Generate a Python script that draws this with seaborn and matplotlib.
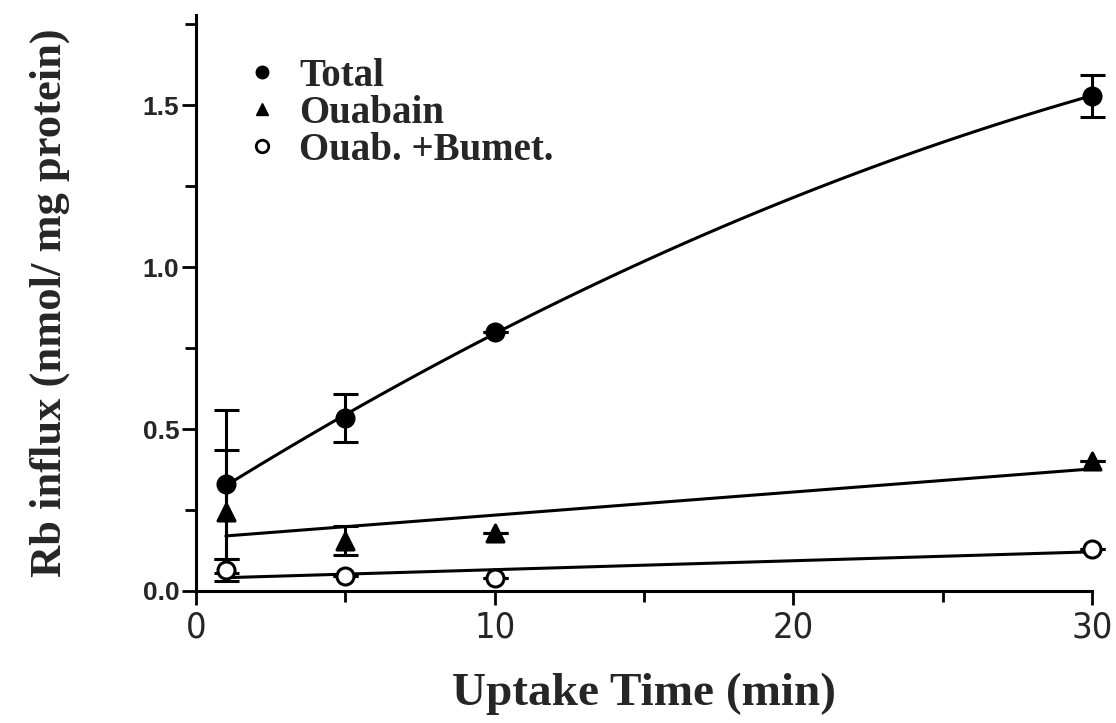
import numpy as np
import pandas as pd
import matplotlib
matplotlib.use("Agg")
import matplotlib.pyplot as plt
import seaborn as sns
from matplotlib.ticker import MultipleLocator, FixedLocator
from matplotlib.lines import Line2D

# ---- data ----
time = [1, 5, 10, 30]
total = [0.33, 0.535, 0.80, 1.53]
total_err = [0.23, 0.075, 0.0, 0.065]
ouabain = [0.245, 0.155, 0.18, 0.40]
ouabain_err = [0.19, 0.045, 0.0, 0.0]
bumet = [0.065, 0.045, 0.04, 0.13]
bumet_err = [0.035, 0.0, 0.0, 0.0]
series_names = ["Total", "Ouabain", "Ouab. +Bumet."]
x_ticks = [0, 10, 20, 30]
y_ticks = [0.0, 0.5, 1.0, 1.5]
y_tick_labels = ["0.0", "0.5", "1.0", "1.5"]

sns.set_theme(style="ticks")
plt.rcParams['font.family'] = ['Liberation Serif', 'DejaVu Serif']

fig = plt.figure(figsize=(11.16, 7.23), dpi=100)
ax = fig.add_axes([0.1756, 0.1826, 0.803, 0.797])

specs = [
    (total, total_err, "o", "black", "black", 2),
    (ouabain, ouabain_err, "^", "black", "black", 1),
    (bumet, bumet_err, "o", "white", "black", 1),
]

for (vals, errs, mk, fc, ec, order), name in zip(specs, series_names):
    df = pd.DataFrame({"time": time, "val": vals, "err": errs})
    sns.regplot(data=df, x="time", y="val", order=order, ci=None, scatter=False,
                ax=ax, line_kws=dict(color="black", lw=2.2), truncate=True)
    ax.errorbar(df["time"], df["val"], yerr=df["err"], fmt="none", ecolor="black",
                elinewidth=2.2, capsize=9, capthick=2.2, zorder=3, clip_on=False)
    sns.scatterplot(data=df, x="time", y="val", marker=mk, s=150, color=fc,
                    edgecolor=ec, linewidth=2.2, ax=ax, zorder=4, clip_on=False)

ax.set_xlim(0, 30)
ax.set_ylim(0, 1.78)
ax.xaxis.set_major_locator(FixedLocator(x_ticks))
ax.xaxis.set_minor_locator(MultipleLocator(5))
ax.yaxis.set_major_locator(FixedLocator(y_ticks))
ax.yaxis.set_minor_locator(MultipleLocator(0.25))
ax.set_yticklabels(y_tick_labels)
sns.despine(ax=ax)
for s in ["left", "bottom"]:
    ax.spines[s].set_linewidth(2.2)
    ax.spines[s].set_color("black")
ax.tick_params(axis="both", which="major", direction="out", length=10, width=2, color="black")
ax.tick_params(axis="both", which="minor", direction="out", length=8, width=2, color="black")
for lab in ax.get_xticklabels():
    lab.set_fontfamily(['DejaVu Sans'])
    lab.set_fontstretch('condensed')
    lab.set_fontsize(26)
for lab in ax.get_yticklabels():
    lab.set_fontfamily(['Liberation Sans', 'DejaVu Sans'])
    lab.set_fontsize(19)
    lab.set_fontweight("bold")
ax.tick_params(axis="x", pad=4)
ax.tick_params(axis="y", pad=2)

ax.set_xlabel("Uptake Time (min)", fontsize=34, fontweight="bold", labelpad=20)
ax.set_ylabel("Rb influx (nmol/ mg protein)", fontsize=32, fontweight="bold", labelpad=52)

handles = [
    Line2D([], [], marker="o", ls="none", color="black", markersize=9),
    Line2D([], [], marker="^", ls="none", color="black", markersize=9),
    Line2D([], [], marker="o", ls="none", markerfacecolor="white",
           markeredgecolor="black", markeredgewidth=2, markersize=9),
]
ax.legend(handles, series_names, loc="upper left", bbox_to_anchor=(0.035, 0.952),
          frameon=False, handletextpad=0.45, labelspacing=0.0, borderaxespad=0,
          handlelength=1.0, prop=dict(family='Liberation Serif', weight='bold', size=28))

fig.savefig("out.png", dpi=100)
